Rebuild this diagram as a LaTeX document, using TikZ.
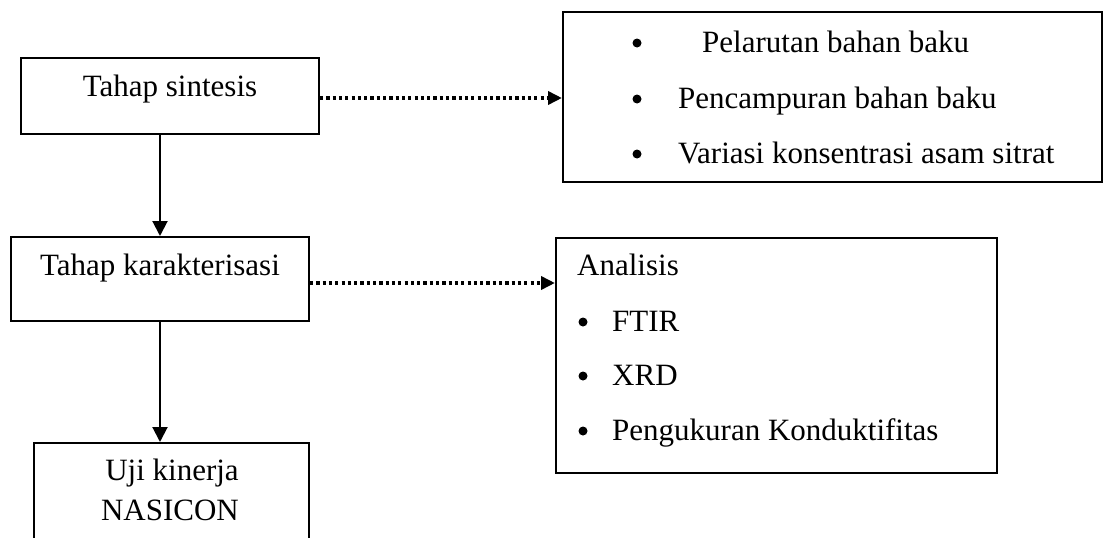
\documentclass[tikz,border=0pt]{standalone}
\usepackage{fontspec}
\setmainfont{Liberation Serif}
\usetikzlibrary{arrows.meta}
\begin{document}
\begin{tikzpicture}[x=1pt,y=-1pt,
  box/.style={draw, line width=2pt, rectangle, inner sep=0pt},
  lbl/.style={inner sep=0pt, anchor=base, font=\fontsize{31}{37}\selectfont},
  lblw/.style={lbl, anchor=base west},
  bullet/.style={circle, fill, draw=none, inner sep=0pt, minimum size=9pt},
  solidarrow/.style={line width=2pt, -{Triangle[length=15pt,width=15pt]}},
  dotarrow/.style={line width=3.5pt, dash pattern=on 3.2pt off 3.1pt, -{Triangle[length=14pt,width=13pt]}}]
\useasboundingbox (0,0) rectangle (1103,538);
\clip (0,0) rectangle (1103,538);
% boxes
\node[box, minimum width=298pt, minimum height=76pt] (s1) at (170,96) {};
\node[box, minimum width=298pt, minimum height=84pt] (s2) at (160,279) {};
\node[box, minimum width=275pt, minimum height=157pt] (s3) at (171.5,521.5) {};
\node[box, minimum width=539pt, minimum height=170pt] (rb1) at (832.5,97) {};
\node[box, minimum width=441pt, minimum height=235pt] (ana) at (776.5,355.5) {};
% left texts
\node[lbl] (t1) at (170,96) {Tahap sintesis};
\node[lbl] (t2) at (160,275) {Tahap karakterisasi};
\node[lbl] (t3a) at (172,480) {Uji kinerja};
\node[lbl] (t3b) at (170,520) {NASICON};
% right box 1 list
\node[bullet] (b11) at (637,43) {};
\node[bullet] (b12) at (637,99) {};
\node[bullet] (b13) at (637,154) {};
\node[lblw] (r11) at (702,52) {Pelarutan bahan baku};
\node[lblw] (r12) at (678,108) {Pencampuran bahan baku};
\node[lblw] (r13) at (678,163) {Variasi konsentrasi asam sitrat};
% analisis box
\node[lblw] (a0) at (577,275) {Analisis};
\node[bullet] (b21) at (583,322) {};
\node[bullet] (b22) at (583,376) {};
\node[bullet] (b23) at (583,431) {};
\node[lblw] (a1) at (612,331) {FTIR};
\node[lblw] (a2) at (612,385) {XRD};
\node[lblw] (a3) at (612,440) {Pengukuran Konduktifitas};
% connectors
\draw[dotarrow] ([yshift=-2pt]s1.east) -- ([yshift=-2pt]s1.east -| rb1.west);
\draw[dotarrow] ([yshift=-4pt]s2.east) -- ([yshift=-4pt]s2.east -| ana.west);
\draw[solidarrow] (s2.north |- s1.south) -- (s2.north);
\draw[solidarrow] (s2.south) -- (s2.south |- s3.north);
\end{tikzpicture}
\end{document}
